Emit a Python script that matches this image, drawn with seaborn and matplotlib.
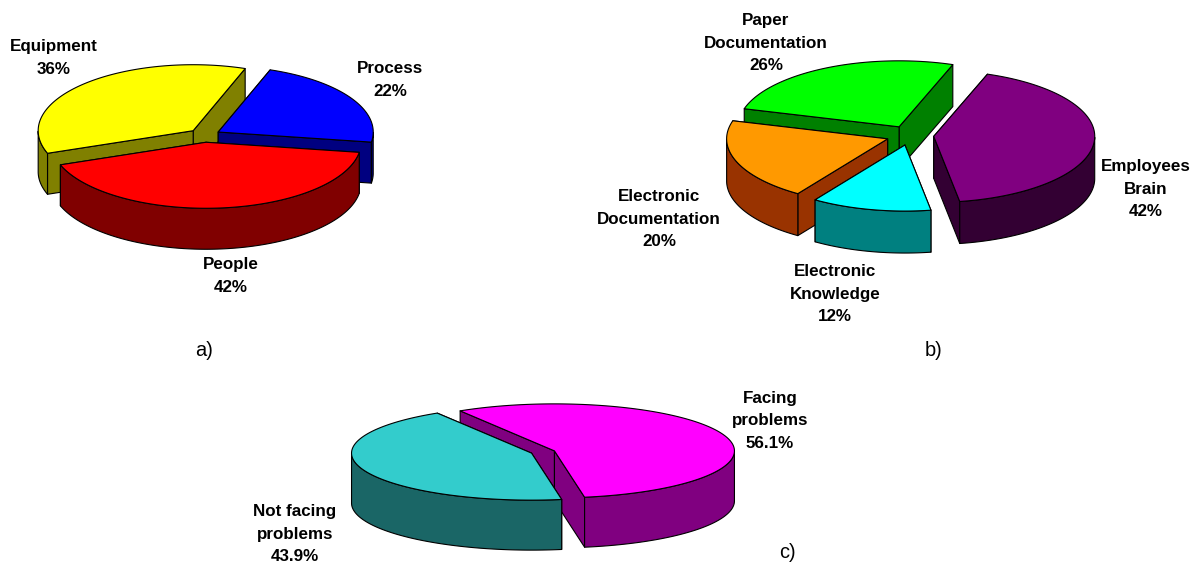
import numpy as np
import seaborn as sns
import matplotlib
matplotlib.use("Agg")
import matplotlib.pyplot as plt
from matplotlib.patches import Polygon

# Survey shares, in percent, listed clockwise from each pie's first slice
cause_values = [22, 42, 36]
cause_names = ["Process", "People", "Equipment"]
storage_values = [42, 12, 20, 26]
storage_names = ["Employees\nBrain", "Electronic\nKnowledge",
                 "Electronic\nDocumentation", "Paper\nDocumentation"]
problem_values = [56.1, 43.9]
problem_names = ["Facing\nproblems", "Not facing\nproblems"]

cause_colors = [("#0000FF", "#000080"), ("#FF0000", "#800000"), ("#FFFF00", "#808000")]
storage_colors = [("#800080", "#330033"), ("#00FFFF", "#008080"),
                  ("#FF9900", "#993300"), ("#00FF00", "#008000")]
problem_colors = [("#FF00FF", "#800080"), ("#33CCCC", "#1A6666")]

sns.set_theme(style="white")
plt.rcParams["font.family"] = ["Liberation Sans", "DejaVu Sans"]

fig, ax = plt.subplots(figsize=(12.02, 5.62), dpi=100)
fig.subplots_adjust(0, 0, 1, 1)
ax.set_xlim(0, 1202)
ax.set_ylim(562, 0)
ax.set_axis_off()

LABEL_PX = 17
PX = 72 / fig.dpi


def rim(cx, cy, a, b, angles):
    rad = np.radians(angles)
    return np.column_stack([cx + a * np.cos(rad), cy - b * np.sin(rad)])


def face(points, color, z):
    ax.add_patch(Polygon(points, closed=True, facecolor=color, edgecolor="black",
                         linewidth=0.8, joinstyle="round", zorder=z))


def pie_3d(values, colors, center, radii, depth, start, explode, base_z):
    """Extruded, exploded pie; slices go clockwise from the start angle."""
    cx, cy = center
    a, b = radii
    total = sum(values)
    edges = start - np.cumsum([0] + list(values)) * 360 / total
    slices = list(zip(edges[:-1], edges[1:], colors))
    # back slices first, so nearer ones overlap them
    slices.sort(key=lambda s: -np.sin(np.radians((s[0] + s[1]) / 2)))
    z = base_z
    for hi, lo, (top, side) in slices:
        mid = np.radians((hi + lo) / 2)
        ox = cx + explode * a * np.cos(mid)
        oy = cy - explode * b * np.sin(mid)
        apex = np.array([ox, oy])
        drop = np.array([0, depth])
        ends = sorted([hi, lo], key=lambda t: -np.sin(np.radians(t)))
        # cut faces, the one further back first
        for t in ends:
            p = rim(ox, oy, a, b, [t])[0]
            face([apex, p, p + drop, apex + drop], side, z)
            z += 1
        # outer wall, only where the rim faces the viewer
        arc = np.linspace(hi, lo, 160)
        front = arc[np.sin(np.radians(arc)) <= 0]
        if len(front) > 1:
            upper = rim(ox, oy, a, b, front)
            face(np.vstack([upper, upper[::-1] + drop]), side, z)
            z += 1
        face(np.vstack([apex, rim(ox, oy, a, b, arc)]), top, z)
        z += 1
    return z


z = pie_3d(cause_values, cause_colors, (204.5, 135.5), (155, 66), 41, 70.4, 0.103, 1)
z = pie_3d(storage_values, storage_colors, (910, 135.5), (161, 66), 42, 70.5, 0.148, z)
z = pie_3d(problem_values, problem_colors, (543, 452), (180, 47), 50, 121.6, 0.068, z)


def slice_label(name, value, x, y):
    ax.text(x, y, f"{name}\n{value:g}%", ha="center", va="center",
            fontsize=LABEL_PX * PX, fontweight="bold", color="black",
            linespacing=1.66, zorder=z + 1)


for name, value, pos in zip(cause_names, cause_values,
                            [(390, 80), (231, 276), (54, 58)]):
    slice_label(name, value, *pos)
for name, value, pos in zip(storage_names, storage_values,
                            [(1146, 189), (835, 294), (659, 219), (766, 43)]):
    slice_label(name, value, *pos)
for name, value, pos in zip(problem_names, problem_values,
                            [(770, 421), (295, 534)]):
    slice_label(name, value, *pos)

for tag, x, y in [("a)", 204, 351), ("b)", 934, 350), ("c)", 787, 553)]:
    ax.text(x, y, tag, ha="center", va="center", fontsize=20 * PX,
            color="black", zorder=z + 1)

fig.savefig("out.png", dpi=100, facecolor="white")
